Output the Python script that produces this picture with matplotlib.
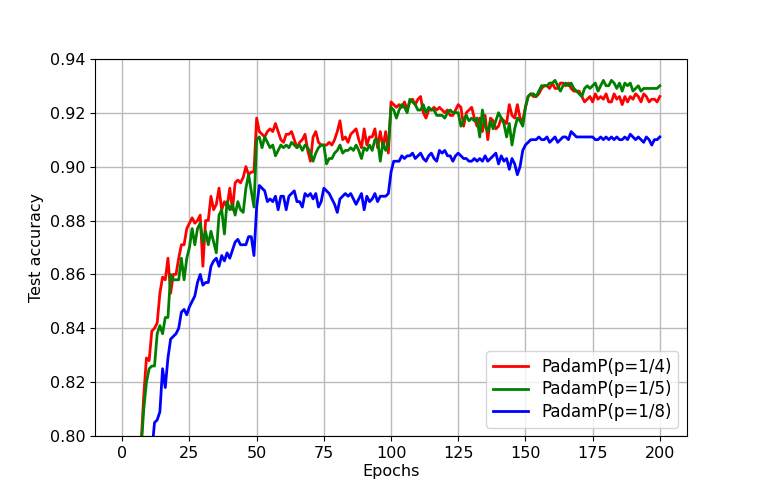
import matplotlib
matplotlib.use('Agg')
import matplotlib.pyplot as plt
import numpy as np

# test accuracy per epoch (0..200)
acc_p4 = [
    0.52, 0.64, 0.70, 0.73, 0.755, 0.77, 0.785, 0.797, 0.815, 0.829,
    0.828, 0.839, 0.840, 0.842, 0.853, 0.859, 0.858, 0.866, 0.853, 0.860,
    0.860, 0.866, 0.871, 0.871, 0.877, 0.879, 0.881, 0.879, 0.880, 0.882,
    0.863, 0.880, 0.880, 0.889, 0.884, 0.886, 0.892, 0.884, 0.887, 0.885,
    0.892, 0.884, 0.894, 0.895, 0.894, 0.896, 0.900, 0.897, 0.898, 0.898,
    0.918, 0.913, 0.912, 0.911, 0.913, 0.914, 0.913, 0.916, 0.913, 0.910,
    0.909, 0.912, 0.912, 0.913, 0.910, 0.907, 0.909, 0.910, 0.912, 0.906,
    0.902, 0.911, 0.913, 0.909, 0.908, 0.908, 0.908, 0.909, 0.908, 0.910,
    0.913, 0.917, 0.910, 0.911, 0.909, 0.912, 0.913, 0.914, 0.910, 0.907,
    0.914, 0.908, 0.911, 0.911, 0.914, 0.907, 0.913, 0.907, 0.913, 0.905,
    0.924, 0.923, 0.922, 0.923, 0.922, 0.924, 0.921, 0.924, 0.925, 0.923,
    0.925, 0.926, 0.920, 0.918, 0.921, 0.921, 0.922, 0.921, 0.922, 0.921,
    0.920, 0.921, 0.919, 0.919, 0.921, 0.923, 0.922, 0.915, 0.920, 0.921,
    0.922, 0.918, 0.915, 0.918, 0.913, 0.919, 0.910, 0.918, 0.917, 0.914,
    0.915, 0.918, 0.917, 0.916, 0.923, 0.919, 0.918, 0.923, 0.918, 0.917,
    0.922, 0.926, 0.927, 0.926, 0.926, 0.927, 0.929, 0.930, 0.930, 0.929,
    0.931, 0.929, 0.929, 0.931, 0.931, 0.930, 0.931, 0.929, 0.928, 0.928,
    0.928, 0.926, 0.924, 0.925, 0.926, 0.924, 0.927, 0.925, 0.926, 0.925,
    0.927, 0.924, 0.924, 0.927, 0.925, 0.926, 0.923, 0.926, 0.924, 0.926,
    0.925, 0.927, 0.926, 0.924, 0.927, 0.926, 0.924, 0.925, 0.925, 0.924,
    0.926,
]

acc_p5 = [
    0.50, 0.62, 0.69, 0.72, 0.75, 0.77, 0.782, 0.795, 0.810, 0.820,
    0.825, 0.826, 0.826, 0.838, 0.841, 0.838, 0.844, 0.844, 0.860, 0.858,
    0.858, 0.858, 0.866, 0.858, 0.866, 0.870, 0.877, 0.871, 0.877, 0.879,
    0.872, 0.876, 0.871, 0.876, 0.872, 0.868, 0.882, 0.884, 0.875, 0.887,
    0.884, 0.886, 0.882, 0.887, 0.884, 0.883, 0.892, 0.897, 0.891, 0.885,
    0.910, 0.911, 0.907, 0.911, 0.909, 0.907, 0.908, 0.904, 0.906, 0.908,
    0.907, 0.908, 0.907, 0.909, 0.908, 0.907, 0.908, 0.906, 0.908, 0.907,
    0.905, 0.902, 0.905, 0.907, 0.908, 0.908, 0.901, 0.903, 0.903, 0.905,
    0.906, 0.908, 0.905, 0.906, 0.906, 0.907, 0.906, 0.908, 0.906, 0.903,
    0.907, 0.906, 0.908, 0.906, 0.910, 0.910, 0.902, 0.909, 0.906, 0.908,
    0.922, 0.921, 0.918, 0.921, 0.923, 0.922, 0.920, 0.925, 0.924, 0.923,
    0.921, 0.921, 0.923, 0.920, 0.922, 0.921, 0.921, 0.919, 0.919, 0.919,
    0.918, 0.920, 0.921, 0.920, 0.920, 0.920, 0.915, 0.917, 0.919, 0.917,
    0.918, 0.917, 0.918, 0.911, 0.921, 0.915, 0.913, 0.917, 0.914, 0.917,
    0.920, 0.918, 0.916, 0.911, 0.916, 0.908, 0.914, 0.918, 0.917, 0.915,
    0.922, 0.926, 0.927, 0.927, 0.926, 0.928, 0.930, 0.930, 0.930, 0.931,
    0.931, 0.932, 0.930, 0.928, 0.930, 0.931, 0.930, 0.931, 0.929, 0.928,
    0.927, 0.926, 0.929, 0.930, 0.929, 0.930, 0.931, 0.928, 0.930, 0.932,
    0.930, 0.930, 0.932, 0.931, 0.929, 0.931, 0.928, 0.931, 0.930, 0.931,
    0.928, 0.929, 0.930, 0.928, 0.929, 0.929, 0.929, 0.929, 0.929, 0.929,
    0.930,
]

acc_p8 = [
    0.40, 0.52, 0.60, 0.65, 0.69, 0.72, 0.74, 0.755, 0.765, 0.775,
    0.782, 0.794, 0.805, 0.806, 0.809, 0.825, 0.818, 0.829, 0.836, 0.837,
    0.838, 0.840, 0.846, 0.847, 0.845, 0.848, 0.850, 0.852, 0.857, 0.860,
    0.856, 0.857, 0.857, 0.863, 0.865, 0.866, 0.863, 0.867, 0.865, 0.868,
    0.866, 0.869, 0.872, 0.873, 0.871, 0.871, 0.871, 0.874, 0.874, 0.867,
    0.885, 0.893, 0.892, 0.891, 0.887, 0.888, 0.887, 0.889, 0.884, 0.889,
    0.889, 0.884, 0.889, 0.890, 0.891, 0.887, 0.887, 0.885, 0.890, 0.889,
    0.890, 0.888, 0.890, 0.885, 0.887, 0.892, 0.891, 0.890, 0.888, 0.886,
    0.883, 0.888, 0.889, 0.890, 0.889, 0.890, 0.888, 0.886, 0.888, 0.890,
    0.884, 0.889, 0.887, 0.888, 0.890, 0.887, 0.889, 0.889, 0.889, 0.890,
    0.898, 0.902, 0.902, 0.902, 0.904, 0.903, 0.904, 0.904, 0.905, 0.903,
    0.904, 0.905, 0.903, 0.902, 0.904, 0.905, 0.903, 0.902, 0.906, 0.905,
    0.906, 0.904, 0.904, 0.902, 0.904, 0.905, 0.904, 0.903, 0.903, 0.902,
    0.902, 0.903, 0.902, 0.903, 0.902, 0.904, 0.902, 0.903, 0.904, 0.905,
    0.901, 0.904, 0.902, 0.903, 0.899, 0.903, 0.901, 0.897, 0.900, 0.906,
    0.908, 0.909, 0.910, 0.910, 0.910, 0.911, 0.910, 0.910, 0.911, 0.909,
    0.910, 0.911, 0.909, 0.910, 0.911, 0.911, 0.910, 0.913, 0.912, 0.911,
    0.911, 0.911, 0.911, 0.911, 0.911, 0.911, 0.910, 0.910, 0.911, 0.910,
    0.911, 0.910, 0.911, 0.910, 0.911, 0.910, 0.910, 0.911, 0.910, 0.912,
    0.911, 0.910, 0.911, 0.910, 0.909, 0.911, 0.910, 0.908, 0.910, 0.910,
    0.911,
]

labels = ['PadamP(p=1/4)', 'PadamP(p=1/5)', 'PadamP(p=1/8)']
colors = ['red', 'green', 'blue']

epochs = np.arange(len(acc_p4))

plt.rcParams['font.size'] = 11.5

fig = plt.figure(figsize=(7.63, 4.9), dpi=100)
ax = fig.add_subplot(111)

for acc, lab, col in zip([acc_p4, acc_p5, acc_p8], labels, colors):
    ax.plot(epochs, acc, color=col, linewidth=2, label=lab)

ax.set_ylim(0.80, 0.94)
ax.set_xticks(range(0, 201, 25))
ax.grid(True, color='#bbbbbb', linewidth=1)
ax.set_xlabel('Epochs', labelpad=2)
ax.set_ylabel('Test accuracy')
ax.legend(loc='lower right', fontsize=12, labelspacing=0.28, handlelength=2.1)

plt.savefig('out.png', dpi=100)
